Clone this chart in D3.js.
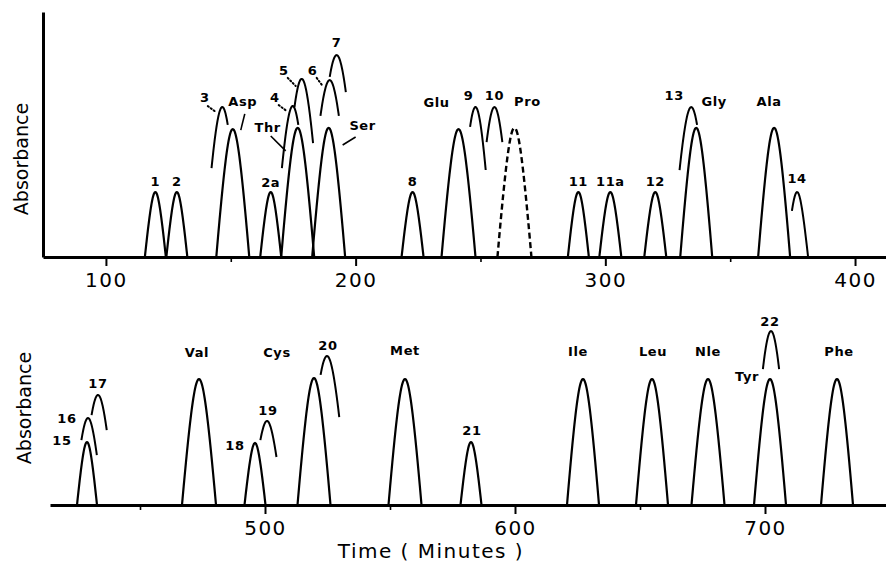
<!DOCTYPE html>
<html><head><meta charset="utf-8">
<script src="https://cdn.jsdelivr.net/npm/d3@7"></script>
<style>body{margin:0;background:#fff} svg{display:block}</style>
</head><body><svg id="c" width="886" height="565"></svg>
<script>
// ---------- DATA ----------
const topTicks = [100, 200, 300, 400];
const topMinorTicks = [150, 250, 350];
const bottomTicks = [500, 600, 700];
const bottomMinorTicks = [450, 550, 650];

// full peaks: [label, time (min), height (absorbance, arbitrary), half-width (min)]
const topPeaks = [
  ["1", 119.8, 26.5, 4.2], ["2", 128.4, 26.5, 4.2], ["Asp", 150.8, 52.2, 6.6],
  ["2a", 166.0, 26.5, 4.2], ["Thr", 176.8, 52.7, 6.6], ["Ser", 189.2, 52.7, 6.6],
  ["8", 222.8, 26.5, 4.4], ["Glu", 241.2, 52.2, 6.8],
  ["11", 289.2, 26.5, 4.2], ["11a", 302.0, 26.5, 4.4], ["12", 320.0, 26.5, 4.4],
  ["Gly", 336.4, 52.7, 6.4], ["Ala", 367.6, 52.7, 6.4]
];
const topDashedPeaks = [["Pro", 263.6, 52.7, 6.8]];
// partial (shoulder) peaks: [label, time, height, half-width, left end level, right end level]
const topArcs = [
  ["3", 146.6, 61.2, 7.5, 36.3, 53.9], ["4", 174.8, 61.6, 7.5, 36.3, 53.9],
  ["5", 178.4, 72.7, 8.5, 61.2, 46.5], ["6", 189.6, 72.2, 9.5, 57.6, 57.6],
  ["7", 192.4, 82.4, 10.0, 73.5, 67.3], ["9", 248.0, 61.2, 7.0, 53.1, 35.5],
  ["10", 255.6, 61.2, 7.5, 46.9, 46.9], ["13", 334.4, 61.2, 8.0, 35.5, 53.9],
  ["14", 376.8, 26.5, 4.4, 18.8, 0]
];
const bottomPeaks = [
  ["15", 428.8, 25.7, 4.0], ["Val", 473.6, 51.4, 6.8], ["18", 496.0, 25.3, 4.2],
  ["Cys", 519.6, 51.8, 6.6], ["Met", 556.0, 51.4, 6.6], ["21", 582.4, 25.7, 4.2],
  ["Ile", 627.2, 51.4, 6.4], ["Leu", 654.8, 51.4, 6.4], ["Nle", 677.2, 51.4, 6.6],
  ["Tyr", 702.0, 51.4, 6.4], ["Phe", 728.8, 51.4, 6.4]
];
const bottomArcs = [
  ["16", 429.2, 35.5, 6.0, 26.5, 20.4], ["17", 433.2, 44.9, 7.0, 36.7, 30.6],
  ["19", 500.8, 34.3, 6.4, 26.5, 19.6], ["20", 524.8, 60.8, 8.5, 53.1, 35.9],
  ["22", 702.4, 71.0, 8.0, 55.5, 55.5]
];
// labels: [text, time, level]
const topLabels = [
  ["1", 119.8, 29.0], ["2", 128.4, 29.0], ["3", 139.6, 63.3], ["Asp", 154.8, 61.6],
  ["4", 167.6, 63.3], ["Thr", 164.8, 51.0], ["5", 171.2, 74.3], ["6", 182.8, 74.3],
  ["7", 192.4, 85.7], ["Ser", 202.8, 51.8], ["2a", 166.0, 28.6], ["8", 222.8, 29.0],
  ["Glu", 232.4, 61.2], ["9", 245.2, 64.1], ["10", 255.6, 64.1], ["Pro", 268.8, 61.6],
  ["11", 289.2, 29.0], ["11a", 302.0, 29.0], ["12", 320.0, 29.0], ["13", 327.6, 64.1],
  ["Gly", 343.6, 61.6], ["Ala", 365.6, 61.6], ["14", 376.8, 30.2]
];
const bottomLabels = [
  ["15", 418.8, 24.5], ["16", 420.8, 33.5], ["17", 433.2, 47.8], ["Val", 472.8, 60.4],
  ["18", 488.0, 22.4], ["19", 501.2, 36.7], ["Cys", 504.8, 60.4], ["20", 525.2, 63.3],
  ["Met", 556.0, 61.2], ["21", 582.8, 28.6], ["Ile", 625.2, 60.8], ["Leu", 655.2, 60.8],
  ["Nle", 677.2, 60.8], ["Tyr", 692.8, 50.6], ["22", 702.0, 73.1], ["Phe", 729.6, 60.8]
];
// leader lines: [t1, level1, t2, level2, dotted]
const topLeaders = [
  [140.8, 61.6, 144.0, 59.2, true], [155.6, 58.4, 154.0, 51.8, false],
  [169.2, 62.0, 172.4, 59.6, true], [166.0, 49.4, 172.0, 43.3, false],
  [172.8, 73.1, 176.0, 69.8, true], [184.4, 73.1, 186.8, 69.8, true],
  [200.0, 49.0, 194.8, 45.7, false]
];

// ---------- DRAW ----------
const svg = d3.select("#c");
const FONT = "'DejaVu Sans', sans-serif";
const A = 0.6, S0 = Math.sqrt(1 + A * A);
const shape = u => Math.max(0, (S0 - Math.sqrt(u * u + A * A)) / (S0 - A));
const uAt = f => { const s = S0 - f * (S0 - A); return Math.sqrt(Math.max(0, s * s - A * A)); };

function panel(cfg) {
  const x = d3.scaleLinear().domain(cfg.xDomain).range(cfg.xRange);
  const y = d3.scaleLinear().domain([0, 100]).range(cfg.yRange);
  const g = svg.append("g");
  const line = d3.line().x(d => x(d[0])).y(d => y(d[1]));

  function curve(t, h, w, u0, u1) {
    const n = 60, pts = [];
    for (let i = 0; i <= n; i++) { const u = u0 + (u1 - u0) * i / n; pts.push([t + u * w, h * shape(u)]); }
    return pts;
  }
  cfg.peaks.forEach(p => g.append("path").attr("d", line(curve(p[1], p[2], p[3], -1, 1)))
    .attr("fill", "none").attr("stroke", "#000").attr("stroke-width", 2.2));
  (cfg.dashed || []).forEach(p => g.append("path").attr("d", line(curve(p[1], p[2], p[3], -1, 1)))
    .attr("fill", "none").attr("stroke", "#000").attr("stroke-width", 2.4).attr("stroke-dasharray", "6,3.5"));
  cfg.arcs.forEach(p => {
    const uL = uAt(p[4] / p[2]), uR = p[5] <= 0 ? 1 : uAt(p[5] / p[2]);
    g.append("path").attr("d", line(curve(p[1], p[2], p[3], -uL, uR)))
      .attr("fill", "none").attr("stroke", "#000").attr("stroke-width", 2);
  });
  (cfg.leaders || []).forEach(l => g.append("line")
    .attr("x1", x(l[0])).attr("y1", y(l[1])).attr("x2", x(l[2])).attr("y2", y(l[3]))
    .attr("stroke", "#000").attr("stroke-width", l[4] ? 2 : 1.6)
    .attr("stroke-dasharray", l[4] ? "1.2,2.4" : null).attr("stroke-linecap", l[4] ? "round" : "butt"));
  cfg.labels.forEach(l => g.append("text").attr("x", x(l[1])).attr("y", y(l[2]))
    .attr("text-anchor", "middle").attr("font-family", FONT).attr("font-weight", "bold")
    .attr("font-size", 13).attr("letter-spacing", 0.6).text(l[0]));

  const ax = g.append("g").attr("transform", `translate(0,${y(0)})`)
    .call(d3.axisBottom(x).tickValues(cfg.ticks).tickSize(9).tickPadding(7).tickSizeOuter(0));
  ax.select(".domain").attr("stroke-width", 3);
  ax.selectAll(".tick line").attr("stroke-width", 2);
  ax.selectAll(".tick text").attr("font-family", FONT).attr("font-size", 20)
    .attr("letter-spacing", 1.5).attr("fill", "#000");
  const mx = g.append("g").attr("transform", `translate(0,${y(0)})`)
    .call(d3.axisBottom(x).tickValues(cfg.minor).tickSize(5).tickFormat(""));
  mx.select(".domain").remove();
  mx.selectAll(".tick line").attr("stroke-width", 1.6);

  if (cfg.yAxis) {
    const ay = g.append("g").attr("transform", `translate(${cfg.xRange[0]},0)`)
      .call(d3.axisLeft(y).tickValues([]).tickSizeOuter(0));
    ay.select(".domain").attr("stroke-width", 3);
  }
  g.append("text").attr("transform", `translate(${cfg.yLabelX},${cfg.yLabelY}) rotate(-90)`)
    .attr("text-anchor", "middle").attr("font-family", FONT).attr("font-size", 19)
    .attr("dy", "0.35em").text("Absorbance");
}

panel({ xDomain: [74.8, 412.4], xRange: [43, 886], yRange: [257, 12], ticks: topTicks, minor: topMinorTicks,
  peaks: topPeaks, dashed: topDashedPeaks, arcs: topArcs, labels: topLabels, leaders: topLeaders,
  yAxis: true, yLabelX: 21, yLabelY: 159 });
panel({ xDomain: [414, 748.4], xRange: [50, 886], yRange: [505, 260], ticks: bottomTicks, minor: bottomMinorTicks,
  peaks: bottomPeaks, arcs: bottomArcs, labels: bottomLabels, yAxis: false, yLabelX: 24, yLabelY: 408 });

svg.append("text").attr("x", 431).attr("y", 558).attr("text-anchor", "middle")
  .attr("font-family", FONT).attr("font-size", 20).attr("letter-spacing", 1.5).text("Time ( Minutes )");
</script></body></html>
